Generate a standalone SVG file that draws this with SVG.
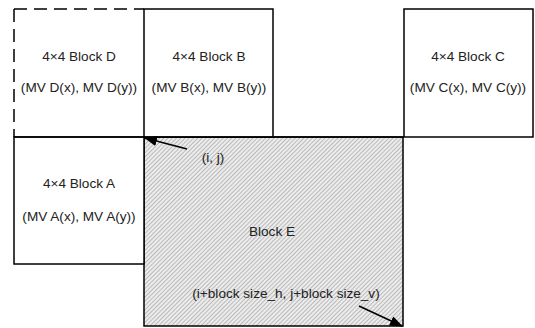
<svg xmlns="http://www.w3.org/2000/svg" width="535" height="328" viewBox="0 0 535 328">
<style>
  .box { fill: #ffffff; stroke: #000000; stroke-width: 1.5; }
  .dash { fill: none; stroke: #000000; stroke-width: 1.5; stroke-dasharray: 13 7; }
  .lbl { font-family: "Liberation Sans", Arial, sans-serif; font-size: 13.6px; fill: #222222; text-anchor: middle; }
  .arrow { stroke: #000000; stroke-width: 1.6; fill: none; }
</style>
<defs>
  <pattern id="hatch" width="3" height="3" patternUnits="userSpaceOnUse" patternTransform="rotate(45)">
    <rect width="3" height="3" fill="#ececec"/>
    <line x1="0.5" y1="0" x2="0.5" y2="3" stroke="#b4b4b4" stroke-width="0.9"/>
  </pattern>
  <marker id="ah" markerWidth="13" markerHeight="10" refX="12" refY="5" orient="auto" markerUnits="userSpaceOnUse">
    <path d="M0,0 L13,5 L0,10 Z" fill="#000000"/>
  </marker>
</defs>
<g id="blockE">
  <rect x="144" y="137" width="259" height="189" fill="url(#hatch)" stroke="#000" stroke-width="1.5"/>
  <text class="lbl" x="272" y="236">Block E</text>
  <text class="lbl" x="286" y="298">(i+block size_h, j+block size_v)</text>
</g>
<g id="blockD">
  <line class="dash" x1="14" y1="9" x2="14" y2="137"/>
  <line class="dash" x1="14" y1="9" x2="144" y2="9"/>
  <text class="lbl" x="79" y="61">4×4 Block D</text>
  <text class="lbl" x="79" y="92">(MV D(x), MV D(y))</text>
</g>
<g id="blockB">
  <rect class="box" x="144" y="9" width="129" height="128"/>
  <text class="lbl" x="209" y="61">4×4 Block B</text>
  <text class="lbl" x="209" y="92">(MV B(x), MV B(y))</text>
</g>
<g id="blockC">
  <rect class="box" x="404" y="9" width="129" height="128"/>
  <text class="lbl" x="468" y="61">4×4 Block C</text>
  <text class="lbl" x="468" y="92">(MV C(x), MV C(y))</text>
</g>
<g id="blockA">
  <rect class="box" x="14" y="137" width="130" height="127"/>
  <text class="lbl" x="79" y="188">4×4 Block A</text>
  <text class="lbl" x="79" y="221">(MV A(x), MV A(y))</text>
</g>
<g id="topline">
  <line x1="14" y1="137" x2="404" y2="137" stroke="#000" stroke-width="1.5"/>
</g>
<g id="connectors">
  <line class="arrow" x1="187" y1="149" x2="145" y2="138" marker-end="url(#ah)"/>
  <line class="arrow" x1="359" y1="306" x2="402" y2="326" marker-end="url(#ah)"/>
</g>
<g id="labels">
  <text class="lbl" x="213" y="162">(i, j)</text>
</g>
</svg>
